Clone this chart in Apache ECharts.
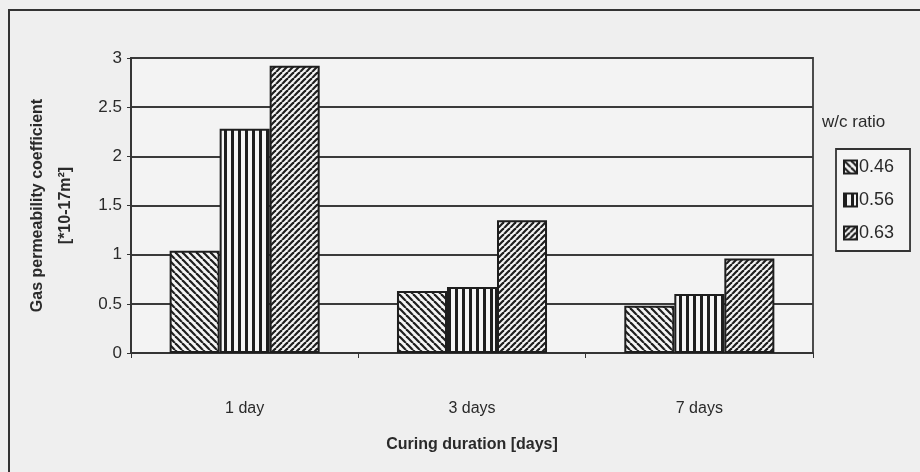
<!DOCTYPE html>
<html>
<head>
<meta charset="utf-8">
<script src="https://cdn.jsdelivr.net/npm/echarts@6/dist/echarts.min.js"></script>
<style>
  html, body { margin: 0; padding: 0; background: #efefef; }
  #main { width: 920px; height: 472px; }
</style>
</head>
<body>
<div id="main"></div>
<script>
// data
var categories = ["1 day", "3 days", "7 days"];
var wc046 = [1.04, 0.63, 0.48];
var wc056 = [2.28, 0.67, 0.60];
var wc063 = [2.92, 1.35, 0.96];
var seriesNames = ["0.46", "0.56", "0.63"];

// hatch fills, built on small canvases
function hatch(kind, size) {
  var c = document.createElement("canvas");
  c.width = size;
  c.height = size;
  var ctx = c.getContext("2d");
  ctx.fillStyle = "#f5f5f5";
  ctx.fillRect(0, 0, size, size);
  ctx.strokeStyle = "#1e1e1e";
  ctx.fillStyle = "#1e1e1e";
  if (kind === "vert") {
    ctx.fillRect(0, 0, 3, size);
    return c;
  }
  ctx.lineWidth = 2.2;
  for (var k = -1; k <= 1; k++) {
    var x0 = k * size;
    ctx.beginPath();
    if (kind === "back") {
      ctx.moveTo(x0, 0);
      ctx.lineTo(x0 + size, size);
    } else {
      ctx.moveTo(x0 + size, 0);
      ctx.lineTo(x0, size);
    }
    ctx.stroke();
  }
  return c;
}

var fills = [
  { image: hatch("back", 7), repeat: "repeat" },
  { image: hatch("vert", 7), repeat: "repeat" },
  { image: hatch("fwd", 6), repeat: "repeat" }
];
var values = [wc046, wc056, wc063];

var myChart = echarts.init(document.getElementById("main"));
var font = "'Liberation Sans', Arial, sans-serif";

var option = {
  backgroundColor: "#efefef",
  animation: false,
  textStyle: { fontFamily: font },
  grid: {
    left: 131, right: 107, top: 58, bottom: 119,
    show: true, backgroundColor: "#f3f3f3",
    borderColor: "#3a3a3a", borderWidth: 1.8
  },
  legend: {
    orient: "vertical",
    left: 836, top: 149,
    padding: [9, 16, 9, 7],
    itemWidth: 13, itemHeight: 13, itemGap: 15,
    icon: "rect",
    borderColor: "#333", borderWidth: 1.8,
    backgroundColor: "#f4f4f4",
    textStyle: { fontSize: 18, color: "#2a2a2a", fontFamily: font, padding: [0, 0, 0, -3] },
    data: seriesNames
  },
  xAxis: {
    type: "category",
    data: categories,
    name: "Curing duration [days]",
    nameLocation: "middle",
    nameGap: 84,
    nameTextStyle: { fontSize: 16, fontWeight: "bold", color: "#2a2a2a" },
    axisLine: { lineStyle: { color: "#333", width: 1.8 } },
    axisTick: { show: true, length: 5, lineStyle: { color: "#333" } },
    axisLabel: { fontSize: 16, color: "#2a2a2a", margin: 48 }
  },
  yAxis: {
    type: "value",
    min: 0, max: 3, interval: 0.5,
    name: "Gas permeability coefficient\n[*10-17m²]",
    nameLocation: "middle",
    nameGap: 51,
    nameTextStyle: { fontSize: 16, fontWeight: "bold", color: "#2a2a2a", lineHeight: 28 },
    axisLine: { show: true, lineStyle: { color: "#333", width: 1.8 } },
    axisTick: { show: true, length: 4, lineStyle: { color: "#333" } },
    axisLabel: { fontSize: 17, color: "#2a2a2a", margin: 9 },
    splitLine: { lineStyle: { color: "#3a3a3a", width: 1.8 } }
  },
  graphic: [
    {
      type: "rect",
      shape: { x: 9, y: 10, width: 940, height: 500 },
      style: { fill: "none", stroke: "#333", lineWidth: 2 },
      silent: true
    },
    {
      type: "text",
      left: 822, top: 114,
      style: { text: "w/c ratio", fontSize: 17, fill: "#2a2a2a", fontFamily: font }
    }
  ],
  series: seriesNames.map(function (n, i) {
    return {
      name: n,
      type: "bar",
      data: values[i],
      barGap: "0%",
      barCategoryGap: "34%",
      itemStyle: { color: fills[i], borderColor: "#1e1e1e", borderWidth: 2 }
    };
  })
};

myChart.setOption(option);
</script>
</body>
</html>
